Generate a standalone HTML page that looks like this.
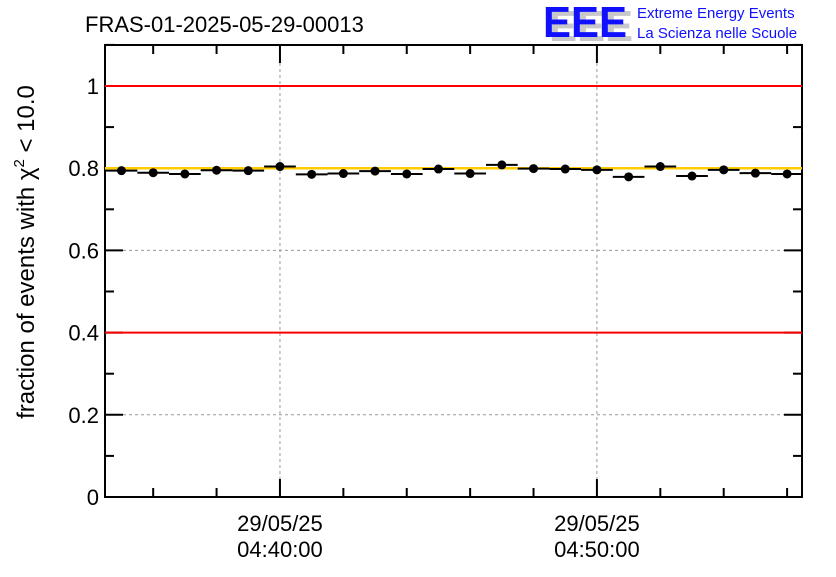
<!DOCTYPE html>
<html><head><meta charset="utf-8"><style>
body{margin:0;background:#fff;}
svg text{font-family:"Liberation Sans",Arial,sans-serif;}
</style></head><body>
<svg id="chart" width="836" height="572" viewBox="0 0 836 572" xmlns="http://www.w3.org/2000/svg">
<rect width="836" height="572" fill="#fff"/>
<text x="85" y="32" font-size="22" fill="#000">FRAS-01-2025-05-29-00013</text>
<g>
<text x="549" y="41" font-size="44" font-weight="bold" fill="#c8c8c8" textLength="84" lengthAdjust="spacingAndGlyphs">EEE</text>
<text x="543" y="37" font-size="44" font-weight="bold" fill="#1010ff" textLength="84" lengthAdjust="spacingAndGlyphs">EEE</text>
<text x="637" y="18" font-size="15" fill="#1010ff">Extreme Energy Events</text>
<text x="637" y="38" font-size="15" fill="#1010ff">La Scienza nelle Scuole</text>
</g>
<g id="grid"></g>
<g id="axes"></g>
<g id="marks"></g>
<text transform="translate(34,252) rotate(-90)" text-anchor="middle" font-size="24" fill="#000">fraction of events with χ<tspan font-size="15" dy="-10">2</tspan><tspan dy="10"> &lt; 10.0</tspan></text>
</svg>
<script>
const yTicks=[0,0.2,0.4,0.6,0.8,1];
const yTickLabels=["0","0.2","0.4","0.6","0.8","1"];
const xMajorMinutes=[40,50];
const xTickLabels=[["29/05/25","04:40:00"],["29/05/25","04:50:00"]];
const binMinutes=[35,36,37,38,39,40,41,42,43,44,45,46,47,48,49,50,51,52,53,54,55,56];
const fractions=[0.794,0.789,0.786,0.795,0.794,0.804,0.785,0.787,0.793,0.786,0.798,0.787,0.808,0.799,0.798,0.796,0.779,0.804,0.781,0.796,0.788,0.786];
const redLines=[1.0,0.4];
const refLine=0.8;

const L=105,R=802,T=45,B=497;
const xMin=34.48,xMax=56.47;
const X=m=>L+(m-xMin)/(xMax-xMin)*(R-L);
function Yv(v){return B-v*411;}
const NS="http://www.w3.org/2000/svg";
function mk(p,tag,a){const e=document.createElementNS(NS,tag);for(const k in a)e.setAttribute(k,a[k]);p.appendChild(e);return e;}
const grid=document.getElementById('grid'),axes=document.getElementById('axes'),marks=document.getElementById('marks');
yTicks.forEach((v,i)=>{
  if(v>0&&v<1){const g=mk(grid,'line',{x1:L,x2:R,y1:Yv(v),y2:Yv(v),stroke:'#999','stroke-dasharray':'3,3','stroke-width':1});
  
  }
  const t=mk(axes,'text',{x:L-6,y:Yv(v)+8,'text-anchor':'end','font-size':22,fill:'#000'});
  t.textContent=yTickLabels[i];
  
  
  mk(axes,'line',{x1:L,x2:L+18,y1:Yv(v),y2:Yv(v),stroke:'#000','stroke-width':2});
  mk(axes,'line',{x1:R,x2:R-18,y1:Yv(v),y2:Yv(v),stroke:'#000','stroke-width':2});
});
for(let v=0.1;v<1.1;v+=0.2){
  mk(axes,'line',{x1:L,x2:L+9,y1:Yv(v),y2:Yv(v),stroke:'#000','stroke-width':2});
  mk(axes,'line',{x1:R,x2:R-9,y1:Yv(v),y2:Yv(v),stroke:'#000','stroke-width':2});
}
for(let m=36;m<=56;m+=2){
  const major=xMajorMinutes.includes(m);
  const h=major?18:9;
  mk(axes,'line',{x1:X(m),x2:X(m),y1:B,y2:B-h,stroke:'#000','stroke-width':2});
  mk(axes,'line',{x1:X(m),x2:X(m),y1:T,y2:T+h,stroke:'#000','stroke-width':2});
}
xMajorMinutes.forEach((m,i)=>{
  const g=mk(grid,'line',{x1:X(m),x2:X(m),y1:T,y2:B,stroke:'#999','stroke-dasharray':'3,3','stroke-width':1});
  
  
  xTickLabels[i].forEach((s,j)=>{
    const t=mk(axes,'text',{x:X(m),y:531+26*j,'text-anchor':'middle','font-size':22,fill:'#000'});
    t.textContent=s;
    
    
  });
});
const fr=mk(axes,'rect',{x:L,y:T,width:R-L,height:B-T,fill:'none',stroke:'#000','stroke-width':2});


redLines.forEach(v=>{
  const l=mk(marks,'line',{x1:L,x2:R,y1:Yv(v),y2:Yv(v),stroke:'#ff0000','stroke-width':2});
  
  
});
const rl=mk(marks,'line',{x1:L,x2:R,y1:Yv(refLine),y2:Yv(refLine),stroke:'#ffcc00','stroke-width':2.5});


binMinutes.forEach((m,i)=>{
  const y=Yv(fractions[i]);
  const e=mk(marks,'line',{x1:X(m-0.5),x2:X(m+0.5),y1:y,y2:y,stroke:'#000','stroke-width':2});
  
  
  const c=mk(marks,'circle',{cx:X(m),cy:y,r:4.5,fill:'#000'});
  
  
});
</script>
</body></html>
